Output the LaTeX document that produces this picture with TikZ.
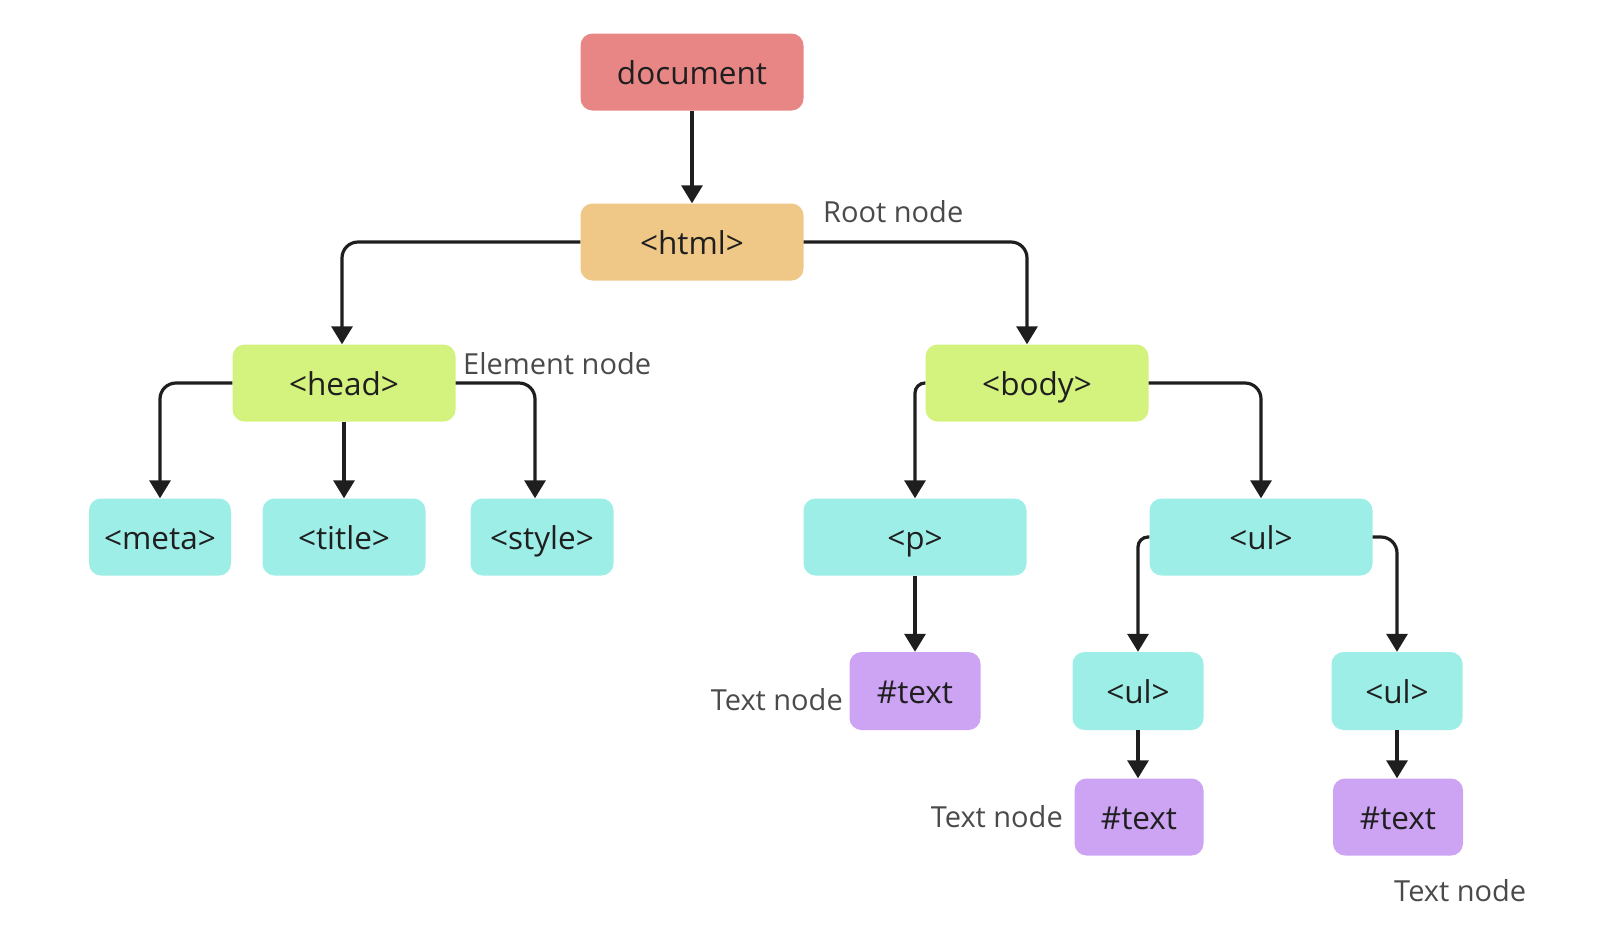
\documentclass[tikz,border=0pt]{standalone}
\usepackage{fontspec}
\setmainfont{Open Sans}
\usetikzlibrary{arrows.meta,calc}
\definecolor{docc}{HTML}{E88585}
\definecolor{htmlc}{HTML}{EFC787}
\definecolor{elc}{HTML}{D4F27E}
\definecolor{cyc}{HTML}{9EEEE8}
\definecolor{txc}{HTML}{CDA3F3}
\definecolor{lblc}{HTML}{4A4A4A}
\definecolor{linec}{HTML}{1E1E1E}
\begin{document}
\begin{tikzpicture}[x=1pt,y=-1pt,
  box/.style={rectangle, rounded corners=12pt, draw=none, minimum height=77pt, inner sep=0pt, text height=25pt, text depth=-3pt, text=black!88, font=\fontsize{31.5}{34}\selectfont},
  wide/.style={box, minimum width=223pt},
  lbl/.style={text=lblc, inner sep=0pt, font=\fontsize{29}{32}\selectfont},
  arr/.style={draw=linec, line width=3.2pt, rounded corners=16pt, -{Triangle[width=21pt,length=18pt]}}
]
\useasboundingbox (0,0) rectangle (1614,946);
\node[wide, fill=docc] (doc) at (692,72) {document};
\node[wide, fill=htmlc] (html) at (692,242) {<html>};
\node[wide, fill=elc] (head) at (344,383) {<head>};
\node[wide, fill=elc] (body) at (1037,383) {<body>};
\node[box, fill=cyc, minimum width=142pt] (meta) at (160,537) {<meta>};
\node[box, fill=cyc, minimum width=163pt] (title) at (344,537) {<title>};
\node[box, fill=cyc, minimum width=143pt] (style) at (542,537) {<style>};
\node[wide, fill=cyc] (p) at (915,537) {<p>};
\node[wide, fill=cyc] (ul) at (1261,537) {<ul>};
\node[box, fill=txc, minimum width=131pt, minimum height=78pt] (t1) at (915,691) {\#text};
\node[box, fill=cyc, minimum width=131pt, minimum height=78pt] (ul2) at (1138,691) {<ul>};
\node[box, fill=cyc, minimum width=131pt, minimum height=78pt] (ul3) at (1397,691) {<ul>};
\node[box, fill=txc, minimum width=129pt, minimum height=77pt] (t2) at (1139,817) {\#text};
\node[box, fill=txc, minimum width=130pt, minimum height=77pt] (t3) at (1398,817) {\#text};

\node[lbl, anchor=west] (rootl) at (823,212) {Root node};
\node[lbl, anchor=west] (eleml) at (463,364) {Element node};
\node[lbl, anchor=east] (tl1) at (843,700) {Text node};
\node[lbl, anchor=east] (tl2) at (1063,817) {Text node};
\node[lbl, anchor=west] (tl3) at (1394,891) {Text node};

\draw[arr] (doc.south) -- (html.north);
\draw[arr] (html.west) -| ([xshift=-2pt]head.north);
\draw[arr] (html.east) -| ([xshift=-10pt]body.north);
\draw[arr] (head.west) -| (meta.north);
\draw[arr] (head.south) -- (title.north);
\draw[arr] (head.east) -| ([xshift=-7pt]style.north);
\draw[arr, rounded corners=10pt] (body.west) -| (p.north);
\draw[arr] (body.east) -| (ul.north);
\draw[arr] (p.south) -- (t1.north);
\draw[arr, rounded corners=10pt] (ul.west) -| (ul2.north);
\draw[arr] (ul.east) -| (ul3.north);
\draw[arr] (ul2.south) -- (ul2.south |- t2.north);
\draw[arr] (ul3.south) -- (ul3.south |- t3.north);
\end{tikzpicture}
\end{document}
